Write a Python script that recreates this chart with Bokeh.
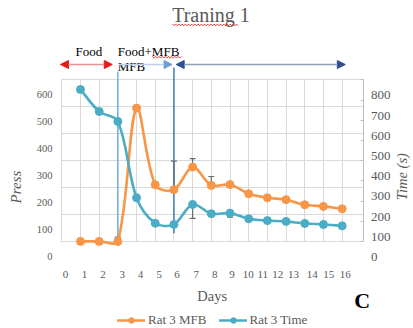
import math
from bokeh.plotting import figure
from bokeh.models import (Range1d, FixedTicker, Grid, Arrow, NormalHead,
                          TeeHead, Whisker, ColumnDataSource, Legend, LegendItem)
from bokeh.core.properties import value
from bokeh.embed import file_html
from bokeh.resources import INLINE

# ---------------- data ----------------
days = list(range(1, 16))
rat3_mfb = [0, 0, 0, 495, 210, 192, 276, 208, 211, 177, 162, 155, 136, 130, 121]
rat3_mfb_err = [0, 0, 16, 0, 10, 106, 31, 33, 0, 0, 0, 0, 0, 0, 0]          # plus direction
rat3_time = [752, 643, 594, 216, 90, 84, 183, 137, 140, 112, 103, 99, 89, 84, 77]
rat3_time_err = [0, 0, 0, 0, 0, 0, 69, 0, 20, 0, 0, 0, 0, 0, 0]             # minus direction
press_ticks = [0, 100, 200, 300, 400, 500, 600]
time_ticks = [0, 100, 200, 300, 400, 500, 600, 700, 800]
day_labels = [str(d) for d in range(17)]
phase_bounds = [0, 3, 6, 15.2]

# ---------------- layout constants (pixels of the 413x328 canvas) ----------------
W, H = 413, 328
PX_DAY0, PX_PER_DAY = 61.3, 18.69          # x pixel of category 0, pixels per category
PX_ZERO = 240.9                            # y pixel of value 0 (both value axes)
PX_PER_PRESS = 161.6 / 600
PX_PER_TIME = 161.6 / 800
PRESS_LABEL_SHIFT = 56.4                   # tick texts sit ~15 px below their gridlines
TIME_LABEL_SHIFT = 77.7
X_EDGE = 16.15                             # right border of the plot area (categories)
XLAB_AT = [0.2, 1.22, 2.21, 3.23, 4.21, 5.22, 6.17, 7.19, 8.18, 9.11, 9.97,
           10.75, 11.55, 12.4, 13.4, 14.28, 15.17]
FONT = "Liberation Serif"
GREY_TXT = "#595959"
ORANGE = "#F79646"
CYAN = "#4BACC6"

X_RANGE = (-PX_DAY0 / PX_PER_DAY, (W - PX_DAY0) / PX_PER_DAY)
PRESS_RANGE = (-(H - PX_ZERO) / PX_PER_PRESS, PX_ZERO / PX_PER_PRESS)
TIME_RANGE = (-(H - PX_ZERO) / PX_PER_TIME, PX_ZERO / PX_PER_TIME)


def px_x(px):
    return X_RANGE[0] + px / PX_PER_DAY


def px_y(py):
    return PRESS_RANGE[0] + (H - py) / PX_PER_PRESS


def smooth_segments(xs, ys, kx, ky, s=1 / 3):
    """Bezier control points of an Excel-like smoothed line (scale aware Catmull-Rom)."""
    n = len(xs)
    P = [(x * kx, y * ky) for x, y in zip(xs, ys)]

    def d(a, b):
        return math.hypot(P[a][0] - P[b][0], P[a][1] - P[b][1])

    out = dict(x0=[], y0=[], x1=[], y1=[], cx0=[], cy0=[], cx1=[], cy1=[])
    for i in range(n - 1):
        a = max(i - 1, 0)
        b = min(i + 2, n - 1)
        d01, d12, d23 = d(a, i), d(i, i + 1), d(i + 1, b)
        f0 = s * d12 / (d01 + d12) if d01 + d12 > 0 else 0
        f1 = s * d12 / (d12 + d23) if d12 + d23 > 0 else 0
        out["x0"].append(xs[i]); out["y0"].append(ys[i])
        out["x1"].append(xs[i + 1]); out["y1"].append(ys[i + 1])
        out["cx0"].append(xs[i] + (xs[i + 1] - xs[a]) * f0)
        out["cy0"].append(ys[i] + (ys[i + 1] - ys[a]) * f0)
        out["cx1"].append(xs[i + 1] - (xs[b] - xs[i]) * f1)
        out["cy1"].append(ys[i + 1] - (ys[b] - ys[i]) * f1)
    return ColumnDataSource(out)


p = figure(width=W, height=H, x_range=Range1d(*X_RANGE), y_range=Range1d(*PRESS_RANGE),
           x_axis_type=None, y_axis_type=None, toolbar_location=None, output_backend="svg",
           min_border=0, outline_line_color=None)
p.title.visible = False
p.extra_y_ranges = {
    "time": Range1d(*TIME_RANGE),
    "plab": Range1d(PRESS_RANGE[0] + PRESS_LABEL_SHIFT, PRESS_RANGE[1] + PRESS_LABEL_SHIFT),
    "tlab": Range1d(TIME_RANGE[0] + TIME_LABEL_SHIFT, TIME_RANGE[1] + TIME_LABEL_SHIFT),
}

# ---------------- grids / plot-area border / right-axis ticks ----------------
p.add_layout(Grid(dimension=0, ticker=FixedTicker(ticks=list(range(0, 16))),
                  cross_bounds=(0, 600), grid_line_color="#d9d9d9", grid_line_width=1))
p.add_layout(Grid(dimension=1, ticker=FixedTicker(ticks=press_ticks),
                  cross_bounds=(0, X_EDGE), grid_line_color="#d9d9d9", grid_line_width=1))
p.add_layout(Grid(dimension=0, ticker=FixedTicker(ticks=[X_EDGE]),
                  cross_bounds=(0, 600), grid_line_color="#bfbfbf", grid_line_width=1))
p.add_layout(Grid(dimension=1, y_range_name="time", ticker=FixedTicker(ticks=time_ticks),
                  cross_bounds=(X_EDGE - 3 / PX_PER_DAY, X_EDGE), grid_line_color="#bfbfbf",
                  grid_line_width=1))

# ---------------- tick texts ----------------
p.text(x=px_x(52), y=press_ticks, text=[str(t) for t in press_ticks], y_range_name="plab",
       text_align="right", text_baseline="middle", text_font=value(FONT),
       text_font_size="10.5px", text_color=GREY_TXT)
p.text(x=px_x(370.5), y=time_ticks, text=[str(t) for t in time_ticks], y_range_name="tlab",
       text_align="left", text_baseline="middle", text_font=value(FONT),
       text_font_size="13px", text_color=GREY_TXT)
p.text(x=XLAB_AT, y=px_y(274), text=day_labels, text_align="center", text_baseline="middle",
       text_font=value(FONT), text_font_size="11px", text_color=GREY_TXT)

# ---------------- phase marker lines ----------------
p.add_layout(Arrow(end=None, x_start=phase_bounds[1], x_end=phase_bounds[1],
                   y_start=px_y(71), y_end=px_y(237.3), line_color="#6FA8DC",
                   line_width=1.4, level="underlay"))
p.add_layout(Arrow(end=None, x_start=phase_bounds[2], x_end=phase_bounds[2],
                   y_start=px_y(67), y_end=px_y(232.7), line_color="#2E75B6",
                   line_width=1.4, level="underlay"))

# ---------------- series ----------------
src_o = smooth_segments(days, rat3_mfb, PX_PER_DAY, PX_PER_PRESS)
src_c = smooth_segments(days, rat3_time, PX_PER_DAY, PX_PER_TIME)
bo = p.bezier(x0="x0", y0="y0", x1="x1", y1="y1", cx0="cx0", cy0="cy0", cx1="cx1", cy1="cy1",
              source=src_o, line_color=ORANGE, line_width=2.6, line_cap="round")
so = p.scatter(days, rat3_mfb, size=8, fill_color=ORANGE, line_color=ORANGE)
bc = p.bezier(x0="x0", y0="y0", x1="x1", y1="y1", cx0="cx0", cy0="cy0", cx1="cx1", cy1="cy1",
              source=src_c, line_color=CYAN, line_width=2.6, line_cap="round",
              y_range_name="time")
sc = p.scatter(days, rat3_time, size=8, fill_color=CYAN, line_color=CYAN, y_range_name="time")

# ---------------- error bars ----------------
eo = [(d, v, e) for d, v, e in zip(days, rat3_mfb, rat3_mfb_err) if e > 0]
ec = [(d, v, e) for d, v, e in zip(days, rat3_time, rat3_time_err) if e > 0]
wo = ColumnDataSource(dict(x=[a for a, _, _ in eo], lo=[v for _, v, _ in eo],
                           hi=[v + e for _, v, e in eo]))
wc = ColumnDataSource(dict(x=[a for a, _, _ in ec], lo=[v - e for _, v, e in ec],
                           hi=[v for _, v, _ in ec]))
p.add_layout(Whisker(source=wo, base="x", lower="lo", upper="hi", dimension="height",
                     line_color="#6a6a6a", line_width=1.2,
                     upper_head=TeeHead(size=6, line_color="#6a6a6a", line_width=1.2),
                     lower_head=None))
p.add_layout(Whisker(source=wc, base="x", lower="lo", upper="hi", dimension="height",
                     line_color="#6a6a6a", line_width=1.2, y_range_name="time",
                     lower_head=TeeHead(size=6, line_color="#6a6a6a", line_width=1.2),
                     upper_head=None))

# ---------------- phase arrows ----------------
ya = px_y(64)
p.add_layout(Arrow(x_start=phase_bounds[0] - 0.07, x_end=phase_bounds[1] - 0.3,
                   y_start=ya, y_end=ya, line_color="#EE9090", line_width=1.6,
                   start=NormalHead(size=8, fill_color="#E41B1B", line_color="#E41B1B"),
                   end=NormalHead(size=8, fill_color="#E41B1B", line_color="#E41B1B")))
p.add_layout(Arrow(x_start=phase_bounds[1] + 0.05, x_end=phase_bounds[2] - 0.1,
                   y_start=ya, y_end=ya, line_color="#BCD1E8", line_width=1.6, start=None,
                   end=NormalHead(size=8, fill_color="#6C9DD3", line_color="#6C9DD3")))
p.add_layout(Arrow(x_start=phase_bounds[2] + 0.12, x_end=phase_bounds[3] - 0.03,
                   y_start=ya, y_end=ya, line_color="#8FA0BC", line_width=1.6,
                   start=NormalHead(size=8, fill_color="#2F4F8F", line_color="#2F4F8F"),
                   end=NormalHead(size=8, fill_color="#2F4F8F", line_color="#2F4F8F")))


# ---------------- texts (anchored at their visual middle) ----------------
def txt(text, px, py, size, color="black", align="left", style="normal", angle=0.0):
    p.text(x=[px_x(px)], y=[px_y(py)], text=[text], text_font=value(FONT),
           text_font_size=size, text_color=color, text_align=align,
           text_baseline="middle", text_font_style=style, angle=angle)


def squiggle(px0, px1, py):
    xs, ys = [], []
    k = 0
    px = px0
    while px <= px1:
        xs.append(px_x(px))
        ys.append(px_y(py + (1.0 if k % 2 else -0.8)))
        px += 1.6
        k += 1
    p.line(xs, ys, line_color="#E02020", line_width=0.8)


txt("Traning 1", 210.5, 14.2, "20px", GREY_TXT, "center")
squiggle(172, 238, 24.3)
txt("Food", 75, 51, "13px")
txt("Food+MFB", 117.3, 51, "13px")
squiggle(152, 181, 56.6)
txt("MFB", 117.3, 66, "13px")
txt("Press", 15.3, 186.5, "15px", GREY_TXT, "center", "italic", math.pi / 2)
txt("Time (s)", 401, 176.2, "14.5px", GREY_TXT, "center", "italic", math.pi / 2)
txt("Days", 211.7, 295.8, "14.5px", GREY_TXT, "center")
txt("C", 361.7, 300.2, "22px", "black", "center", "bold")

# ---------------- legend ----------------
legend = Legend(items=[LegendItem(label="Rat 3 MFB", renderers=[bo, so]),
                       LegendItem(label="Rat 3 Time", renderers=[bc, sc])],
                location=(117, 0), orientation="horizontal",
                glyph_width=28, glyph_height=14, label_height=14, label_standoff=3,
                spacing=12, padding=0, margin=0, border_line_alpha=0,
                background_fill_alpha=0, label_text_font=FONT,
                label_text_font_size="13px", label_text_color=GREY_TXT)
p.add_layout(legend)

open("out.html", "w").write(file_html(p, INLINE))
